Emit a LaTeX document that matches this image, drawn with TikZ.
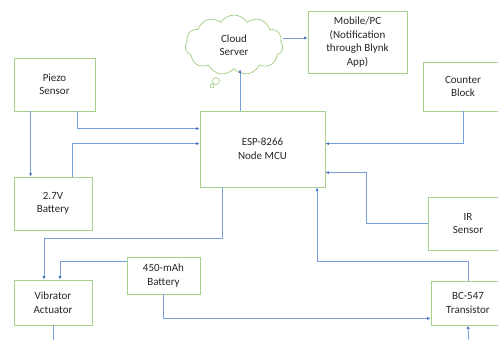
\documentclass[tikz,border=0pt]{standalone}
\usepackage{fontspec}
\setmainfont{Carlito}
\usetikzlibrary{arrows.meta,shapes.symbols}

\definecolor{boxgreen}{RGB}{169,209,142}
\definecolor{linkblue}{RGB}{120,157,222}
\definecolor{tipblue}{RGB}{68,114,196}

\begin{document}
\begin{tikzpicture}[
        x=1pt,y=-1pt,
        block/.style={draw=boxgreen,line width=0.8pt,align=center,inner sep=0pt,
            font=\fontsize{11}{13.5}\selectfont,text=black!85},
        cloudbox/.style={cloud,draw=boxgreen,line width=0.8pt,cloud puffs=11,
            cloud puff arc=115,aspect=1.6,align=center,inner sep=0pt,
            font=\fontsize{11}{13.5}\selectfont,text=black!85},
        bubble/.style={circle,draw=boxgreen,line width=0.7pt,inner sep=0pt},
        link/.style={draw=linkblue,line width=0.8pt,-{Latex[length=3.5pt,width=3pt,color=tipblue]}},
        wire/.style={draw=linkblue,line width=0.8pt}
    ]
        \useasboundingbox (0,0) rectangle (498,340);

        % Define the nodes
        \node[cloudbox,minimum width=98pt,minimum height=60pt] (cloud) at (234,45) {Cloud\\Server};
        \node[bubble,minimum size=7pt] (tail1) at (216,81) {};
        \node[bubble,minimum size=4pt] (tail2) at (212,86) {};
        \node[block,minimum width=99pt,minimum height=62pt] (mobile) at (357.5,42) {Mobile/PC\\(Notification\\through Blynk\\App)};
        \node[block,minimum width=81pt,minimum height=53pt] (piezo) at (54.5,84.5) {Piezo\\Sensor};
        \node[block,minimum width=125pt,minimum height=76pt] (esp) at (262.5,149) {ESP-8266\\Node MCU};
        \node[block,minimum width=80pt,minimum height=49pt] (counter) at (463,86.5) {Counter\\Block};
        \node[block,minimum width=78pt,minimum height=53pt] (batt27) at (53,203.5) {2.7V\\Battery};
        \node[block,minimum width=80pt,minimum height=53pt] (ir) at (468,223.5) {IR\\Sensor};
        \node[block,minimum width=73pt,minimum height=37pt] (batt450) at (163.5,275.5) {450-mAh\\Battery};
        \node[block,minimum width=78pt,minimum height=45pt] (vibr) at (53,302.5) {Vibrator\\Actuator};
        \node[block,minimum width=74pt,minimum height=44pt] (bc) at (468,303) {BC-547\\Transistor};
        \coordinate (vout) at (53,345);
        \coordinate (bcin) at (469,345);

        % Links to and from the MCU
        \draw[link] ([xshift=-22.5pt]esp.north) -- ([xshift=-22.5pt]esp.north |- cloud.south);
        \draw[link] ([yshift=7pt]cloud.east) -- ([yshift=7pt]cloud.east -| mobile.west);
        \draw[link] ([xshift=-18pt]piezo.south east) |- ([yshift=-18pt]esp.north west);
        \draw[link] ([xshift=17pt]piezo.south west) -- ([xshift=17pt]batt27.north west);
        \draw[link] ([xshift=-20pt]batt27.north east) |- ([yshift=-33pt]esp.north west);
        \draw[link] (counter.south) |- ([yshift=-33pt]esp.north east);
        \draw[link] (ir.west) -- ++(-61,0) |- ([yshift=-62pt]esp.north east);
        \draw[link] (bc.north) -- ++(0,-19) -| ([xshift=54.5pt]esp.south);
        \draw[link] ([xshift=-40.5pt]esp.south) -- ++(0,51) -| ([xshift=-9pt]vibr.north);
        \draw[link] ([yshift=-5pt]batt450.north west) -| ([xshift=7pt]vibr.north);
        \draw[link] (batt450.south) |- ([yshift=7pt]bc.south west);
        \draw[wire] (vibr.south) -- (vout);
        \draw[link] (bcin) -- (bc.south);
    \end{tikzpicture}
\end{document}
